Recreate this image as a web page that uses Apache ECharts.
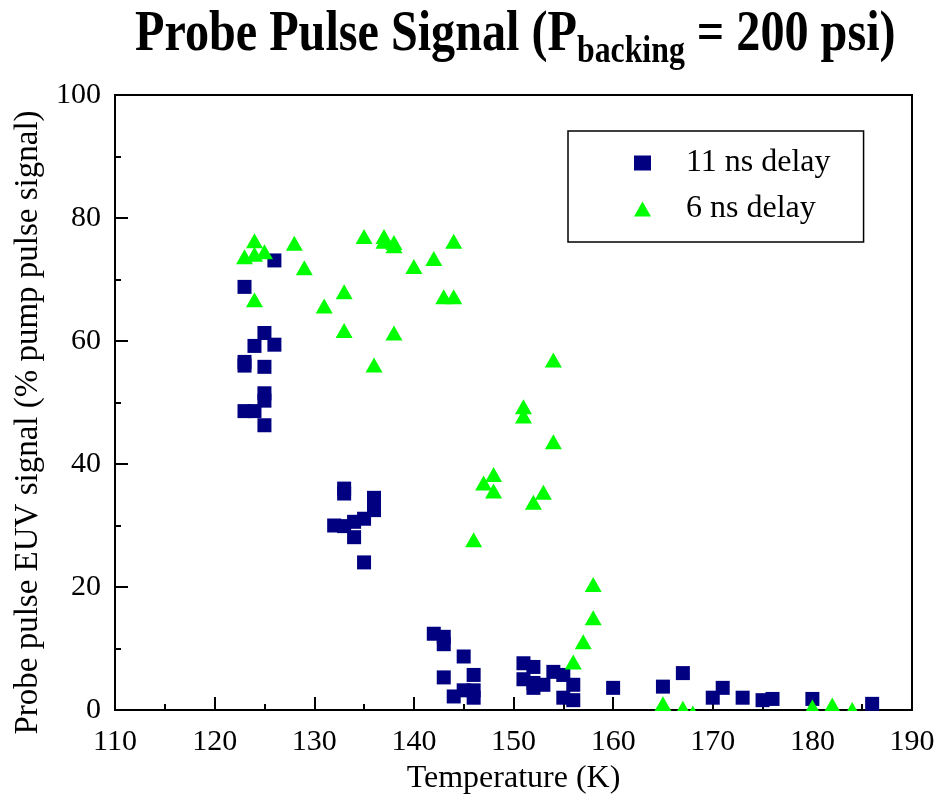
<!DOCTYPE html>
<html>
<head>
<meta charset="utf-8">
<script src="https://cdn.jsdelivr.net/npm/echarts@6/dist/echarts.min.js"></script>
<style>
  html, body { margin: 0; padding: 0; background: #fff; }
  #chart { width: 941px; height: 800px; }
</style>
</head>
<body>
<div id="chart"></div>
<script>
// 11 ns delay (temperature K, signal %)
var temp11 = [123, 123, 123, 123, 124, 124, 125, 125, 125, 125, 125, 126, 126,
    132, 133, 133, 133, 134, 134, 135, 135, 136, 136,
    142, 143, 143, 143, 144, 145, 145, 146, 146, 146,
    151, 151, 152, 152, 152, 153, 154, 155, 155, 156, 156,
    160, 165, 167, 170, 171, 173, 175, 176, 180, 186];
var sig11 = [68.8, 56.6, 56.0, 48.6, 48.6, 59.2, 61.3, 55.8, 51.5, 50.3, 46.3, 73.1, 59.4,
    30.0, 36.0, 35.2, 29.9, 30.6, 28.1, 31.1, 24.0, 34.5, 32.5,
    12.4, 11.9, 10.7, 5.3, 2.2, 8.7, 3.2, 5.7, 3.2, 2.0,
    7.6, 5.0, 7.0, 4.4, 3.6, 4.1, 6.2, 5.7, 2.0, 4.1, 1.6,
    3.6, 3.8, 6.0, 2.0, 3.6, 2.0, 1.6, 1.8, 1.8, 1.0];

// 6 ns delay
var temp6 = [123, 124, 124, 124, 125, 128, 129, 131, 133, 133, 135, 136, 137, 137,
    138, 138, 138, 140, 142, 143, 144, 144,
    146, 147, 148, 148, 151, 151, 152, 153, 154, 154,
    156, 157, 158, 158, 165, 167, 168, 180, 182, 184];
var sig6 = [73.7, 76.3, 74.1, 66.7, 74.5, 75.9, 71.9, 65.7, 68.0, 61.7, 77.0, 56.1, 77.0, 76.2,
    76.0, 75.5, 61.3, 72.1, 73.4, 67.2, 76.2, 67.2,
    27.7, 36.9, 38.3, 35.6, 49.3, 47.8, 33.8, 35.4, 56.9, 43.6,
    7.8, 11.1, 20.4, 15.0, 1.0, 0.3, -0.5, 0.5, 0.8, 0.1];

var seriesNames = ['11 ns delay', '6 ns delay'];

function pairs(xs, ys) {
    var out = [];
    for (var i = 0; i < xs.length; i++) out.push([xs[i], ys[i]]);
    return out;
}

var serif = 'Liberation Serif, Times New Roman, serif';
var myChart = echarts.init(document.getElementById('chart'), null, { renderer: 'canvas' });

var option = {
    animation: false,
    backgroundColor: '#fff',
    textStyle: { fontFamily: serif, color: '#000' },
    legend: {
        orient: 'vertical',
        left: 568,
        top: 131,
        padding: [16, 33, 17, 66],
        itemGap: 14,
        itemWidth: 17,
        itemHeight: 15,
        borderColor: '#000',
        borderWidth: 1.5,
        data: seriesNames,
        textStyle: { fontFamily: serif, fontSize: 32, color: '#000', padding: [0, 0, 0, 30] }
    },
    grid: {
        left: 115, right: 29, top: 95, bottom: 90,
        outerBoundsMode: 'none',
        show: true,
        borderColor: '#000',
        borderWidth: 2
    },
    xAxis: {
        type: 'value',
        min: 110, max: 190, interval: 10,
        name: 'Temperature (K)',
        nameLocation: 'middle',
        nameGap: 53,
        nameTextStyle: { fontFamily: serif, fontSize: 32, color: '#000' },
        axisLine: { lineStyle: { color: '#000', width: 2 } },
        axisTick: { inside: true, length: 13, lineStyle: { color: '#000', width: 2 } },
        minorTick: { show: true, splitNumber: 2, length: 6, lineStyle: { color: '#000', width: 2 } },
        axisLabel: { fontFamily: serif, fontSize: 30, color: '#000', margin: 17 },
        splitLine: { show: false }
    },
    yAxis: {
        type: 'value',
        min: 0, max: 100, interval: 20,
        name: 'Probe pulse EUV signal (% pump pulse signal)',
        nameLocation: 'middle',
        nameGap: 68,
        nameTextStyle: { fontFamily: serif, fontSize: 33, color: '#000', padding: [0, 40, 0, 0] },
        axisLine: { lineStyle: { color: '#000', width: 2 } },
        axisTick: { inside: true, length: 13, lineStyle: { color: '#000', width: 2 } },
        minorTick: { show: true, splitNumber: 2, length: 6, lineStyle: { color: '#000', width: 2 } },
        axisLabel: { fontFamily: serif, fontSize: 30, color: '#000', margin: 14 },
        splitLine: { show: false }
    },
    graphic: [
        {
            // title, drawn a little narrow and tall like the original
            type: 'text',
            x: 135,
            y: 1,
            scaleX: 0.86,
            style: {
                text: '{m|Probe Pulse Signal (P}{s|backing}{m| = 200 psi)}',
                rich: {
                    m: { fontFamily: serif, fontWeight: 'bold', fontSize: 56, lineHeight: 70, fill: '#000' },
                    s: { fontFamily: serif, fontWeight: 'bold', fontSize: 37, lineHeight: 37, verticalAlign: 'bottom', fill: '#000' }
                }
            }
        },
        {
            // hides the parts of markers that hang below the x axis
            type: 'rect',
            shape: { x: 117, y: 711, width: 793, height: 11 },
            style: { fill: '#fff' },
            z: 100
        }
    ],
    series: [
        {
            name: seriesNames[0],
            type: 'scatter',
            symbol: 'rect',
            symbolSize: 14,
            clip: false,
            itemStyle: { color: '#000080', opacity: 1 },
            data: pairs(temp11, sig11)
        },
        {
            name: seriesNames[1],
            type: 'scatter',
            symbol: 'triangle',
            symbolSize: [17, 15],
            clip: false,
            itemStyle: { color: '#00ff00', opacity: 1 },
            data: pairs(temp6, sig6)
        }
    ]
};

myChart.setOption(option);
window.addEventListener('resize', myChart.resize);
</script>
</body>
</html>
